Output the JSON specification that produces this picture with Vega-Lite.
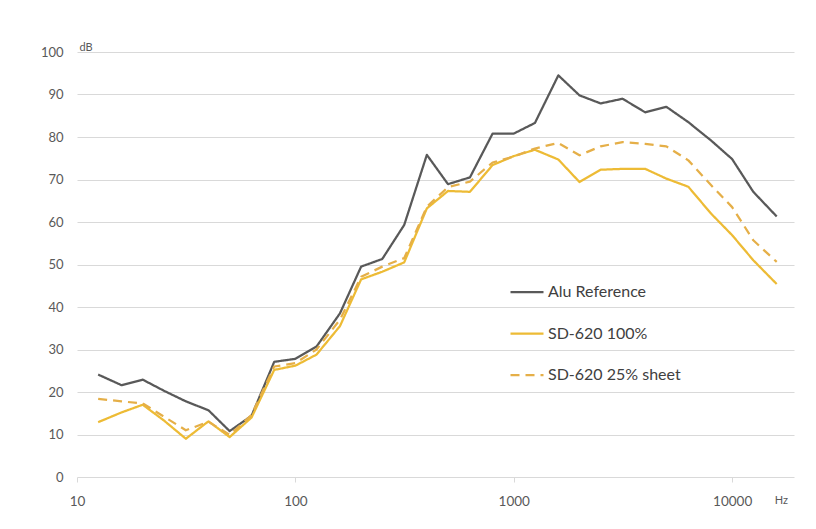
{
  "$schema": "https://vega.github.io/schema/vega-lite/v6.json",
  "width": 717,
  "height": 425,
  "autosize": {"type": "none"},
  "padding": {"left": 77, "top": 52, "right": 22, "bottom": 52},
  "background": "white",
  "config": {
    "view": {"stroke": null},
    "font": "Lato",
    "axis": {"labelFont": "Lato", "titleFont": "Lato"}
  },
  "data": {
    "values": [
      {"f": 12.5, "s": "Alu Reference", "v": 24.1},
      {"f": 16, "s": "Alu Reference", "v": 21.6},
      {"f": 20, "s": "Alu Reference", "v": 22.9},
      {"f": 25, "s": "Alu Reference", "v": 20.3},
      {"f": 31.5, "s": "Alu Reference", "v": 17.8},
      {"f": 40, "s": "Alu Reference", "v": 15.7},
      {"f": 50, "s": "Alu Reference", "v": 10.8},
      {"f": 63, "s": "Alu Reference", "v": 14.4},
      {"f": 80, "s": "Alu Reference", "v": 27.1},
      {"f": 100, "s": "Alu Reference", "v": 27.8},
      {"f": 125, "s": "Alu Reference", "v": 30.7},
      {"f": 160, "s": "Alu Reference", "v": 38.5},
      {"f": 200, "s": "Alu Reference", "v": 49.5},
      {"f": 250, "s": "Alu Reference", "v": 51.3},
      {"f": 315, "s": "Alu Reference", "v": 59.3},
      {"f": 400, "s": "Alu Reference", "v": 75.8},
      {"f": 500, "s": "Alu Reference", "v": 68.9},
      {"f": 630, "s": "Alu Reference", "v": 70.5},
      {"f": 800, "s": "Alu Reference", "v": 80.8},
      {"f": 1000, "s": "Alu Reference", "v": 80.8},
      {"f": 1250, "s": "Alu Reference", "v": 83.3},
      {"f": 1600, "s": "Alu Reference", "v": 94.5},
      {"f": 2000, "s": "Alu Reference", "v": 89.8},
      {"f": 2500, "s": "Alu Reference", "v": 87.9},
      {"f": 3150, "s": "Alu Reference", "v": 89.0},
      {"f": 4000, "s": "Alu Reference", "v": 85.8},
      {"f": 5000, "s": "Alu Reference", "v": 87.1},
      {"f": 6300, "s": "Alu Reference", "v": 83.5},
      {"f": 8000, "s": "Alu Reference", "v": 79.2},
      {"f": 10000, "s": "Alu Reference", "v": 74.8},
      {"f": 12500, "s": "Alu Reference", "v": 67.1},
      {"f": 16000, "s": "Alu Reference", "v": 61.3},
      {"f": 12.5, "s": "SD-620 100%", "v": 12.9},
      {"f": 16, "s": "SD-620 100%", "v": 15.2},
      {"f": 20, "s": "SD-620 100%", "v": 17.0},
      {"f": 25, "s": "SD-620 100%", "v": 13.3},
      {"f": 31.5, "s": "SD-620 100%", "v": 9.0},
      {"f": 40, "s": "SD-620 100%", "v": 13.1},
      {"f": 50, "s": "SD-620 100%", "v": 9.4},
      {"f": 63, "s": "SD-620 100%", "v": 14.0},
      {"f": 80, "s": "SD-620 100%", "v": 25.2},
      {"f": 100, "s": "SD-620 100%", "v": 26.2},
      {"f": 125, "s": "SD-620 100%", "v": 28.8},
      {"f": 160, "s": "SD-620 100%", "v": 35.5},
      {"f": 200, "s": "SD-620 100%", "v": 46.5},
      {"f": 250, "s": "SD-620 100%", "v": 48.3},
      {"f": 315, "s": "SD-620 100%", "v": 50.5},
      {"f": 400, "s": "SD-620 100%", "v": 63.2},
      {"f": 500, "s": "SD-620 100%", "v": 67.3},
      {"f": 630, "s": "SD-620 100%", "v": 67.1},
      {"f": 800, "s": "SD-620 100%", "v": 73.4},
      {"f": 1000, "s": "SD-620 100%", "v": 75.5},
      {"f": 1250, "s": "SD-620 100%", "v": 77.0},
      {"f": 1600, "s": "SD-620 100%", "v": 74.7},
      {"f": 2000, "s": "SD-620 100%", "v": 69.4},
      {"f": 2500, "s": "SD-620 100%", "v": 72.3},
      {"f": 3150, "s": "SD-620 100%", "v": 72.5},
      {"f": 4000, "s": "SD-620 100%", "v": 72.5},
      {"f": 5000, "s": "SD-620 100%", "v": 70.2},
      {"f": 6300, "s": "SD-620 100%", "v": 68.3},
      {"f": 8000, "s": "SD-620 100%", "v": 62.0},
      {"f": 10000, "s": "SD-620 100%", "v": 56.9},
      {"f": 12500, "s": "SD-620 100%", "v": 51.0},
      {"f": 16000, "s": "SD-620 100%", "v": 45.4},
      {"f": 12.5, "s": "SD-620 25% sheet", "v": 18.4},
      {"f": 16, "s": "SD-620 25% sheet", "v": 17.8},
      {"f": 20, "s": "SD-620 25% sheet", "v": 17.3},
      {"f": 25, "s": "SD-620 25% sheet", "v": 14.2},
      {"f": 31.5, "s": "SD-620 25% sheet", "v": 11.0},
      {"f": 40, "s": "SD-620 25% sheet", "v": 13.0},
      {"f": 50, "s": "SD-620 25% sheet", "v": 9.9},
      {"f": 63, "s": "SD-620 25% sheet", "v": 14.6},
      {"f": 80, "s": "SD-620 25% sheet", "v": 26.0},
      {"f": 100, "s": "SD-620 25% sheet", "v": 26.8},
      {"f": 125, "s": "SD-620 25% sheet", "v": 30.0},
      {"f": 160, "s": "SD-620 25% sheet", "v": 37.0},
      {"f": 200, "s": "SD-620 25% sheet", "v": 47.1},
      {"f": 250, "s": "SD-620 25% sheet", "v": 49.5},
      {"f": 315, "s": "SD-620 25% sheet", "v": 51.5},
      {"f": 400, "s": "SD-620 25% sheet", "v": 63.6},
      {"f": 500, "s": "SD-620 25% sheet", "v": 68.2},
      {"f": 630, "s": "SD-620 25% sheet", "v": 69.5},
      {"f": 800, "s": "SD-620 25% sheet", "v": 74.0},
      {"f": 1000, "s": "SD-620 25% sheet", "v": 75.4},
      {"f": 1250, "s": "SD-620 25% sheet", "v": 77.3},
      {"f": 1600, "s": "SD-620 25% sheet", "v": 78.6},
      {"f": 2000, "s": "SD-620 25% sheet", "v": 75.7},
      {"f": 2500, "s": "SD-620 25% sheet", "v": 77.8},
      {"f": 3150, "s": "SD-620 25% sheet", "v": 78.8},
      {"f": 4000, "s": "SD-620 25% sheet", "v": 78.4},
      {"f": 5000, "s": "SD-620 25% sheet", "v": 77.8},
      {"f": 6300, "s": "SD-620 25% sheet", "v": 74.5},
      {"f": 8000, "s": "SD-620 25% sheet", "v": 68.7},
      {"f": 10000, "s": "SD-620 25% sheet", "v": 63.5},
      {"f": 12500, "s": "SD-620 25% sheet", "v": 55.7},
      {"f": 16000, "s": "SD-620 25% sheet", "v": 50.6}
    ]
  },
  "mark": {"type": "line", "strokeWidth": 2.25, "strokeJoin": "round", "strokeCap": "butt"},
  "encoding": {
    "x": {
      "field": "f",
      "type": "quantitative",
      "scale": {"type": "log", "domain": [10, 19200], "nice": false},
      "axis": {
        "title": null,
        "values": [10, 100, 1000, 10000, 16700],
        "labelExpr": "datum.value > 15000 ? 'Hz' : datum.label",
        "format": "d",
        "grid": false,
        "domain": false,
        "ticks": true,
        "tickSize": 5,
        "tickColor": "#d9d9d9",
        "tickOpacity": {"expr": "datum.value > 15000 ? 0 : 1"},
        "labelPadding": 12,
        "labelFontSize": {"expr": "datum.value > 15000 ? 11 : 13.5"},
        "labelColor": "#595959",
        "labelFlush": false
      }
    },
    "y": {
      "field": "v",
      "type": "quantitative",
      "scale": {"domain": [0, 100], "nice": false},
      "axis": {
        "title": "dB",
        "titleAngle": 0,
        "titleX": 2,
        "titleY": -5,
        "titleAlign": "left",
        "titleBaseline": "middle",
        "titleFontSize": 11,
        "titleFontWeight": "normal",
        "titleColor": "#595959",
        "values": [0, 10, 20, 30, 40, 50, 60, 70, 80, 90, 100],
        "grid": true,
        "gridColor": "#d9d9d9",
        "gridWidth": 1,
        "domain": false,
        "ticks": false,
        "labelPadding": 14,
        "labelFontSize": 13,
        "labelColor": "#595959"
      }
    },
    "color": {
      "field": "s",
      "type": "nominal",
      "sort": ["Alu Reference", "SD-620 100%", "SD-620 25% sheet"],
      "scale": {
        "domain": ["Alu Reference", "SD-620 100%", "SD-620 25% sheet"],
        "range": ["#595959", "#EDBB35", "#E5AF48"]
      },
      "legend": {
        "title": null,
        "orient": "none",
        "legendX": 432,
        "legendY": 222,
        "symbolType": "stroke",
        "symbolSize": 1089,
        "symbolStrokeWidth": 2.25,
        "labelFontSize": 16,
        "labelColor": "#404040",
        "labelOffset": 3,
        "rowPadding": 15.5
      }
    },
    "strokeDash": {
      "field": "s",
      "type": "nominal",
      "sort": ["Alu Reference", "SD-620 100%", "SD-620 25% sheet"],
      "scale": {
        "domain": ["Alu Reference", "SD-620 100%", "SD-620 25% sheet"],
        "range": [[1, 0], [1, 0], [9, 6]]
      },
      "legend": null
    }
  }
}
